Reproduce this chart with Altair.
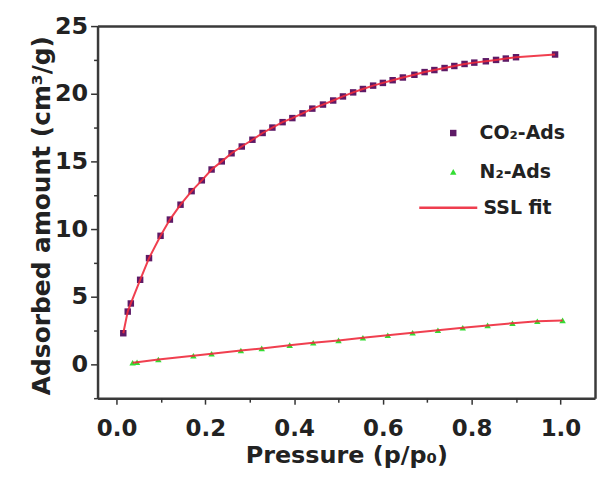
import altair as alt
import pandas as pd

# CO2 adsorption (points and SSL fit)
co2_p = [0.015, 0.025, 0.032, 0.053, 0.073, 0.099, 0.120, 0.144, 0.169, 0.192,
         0.214, 0.237, 0.259, 0.282, 0.306, 0.329, 0.351, 0.374, 0.396, 0.419,
         0.441, 0.465, 0.488, 0.510, 0.533, 0.555, 0.578, 0.600, 0.622, 0.645,
         0.671, 0.694, 0.716, 0.739, 0.761, 0.784, 0.806, 0.832, 0.855, 0.877,
         0.900, 0.988]
co2_q = [2.3, 3.9, 4.5, 6.25, 7.85, 9.5, 10.7, 11.8, 12.8, 13.6,
         14.4, 15.0, 15.6, 16.1, 16.6, 17.1, 17.5, 17.9, 18.2, 18.55,
         18.9, 19.2, 19.5, 19.8, 20.1, 20.35, 20.6, 20.8, 21.0, 21.2,
         21.4, 21.6, 21.75, 21.9, 22.05, 22.2, 22.3, 22.4, 22.5, 22.6,
         22.7, 22.9]

# N2 adsorption
n2_p = [0.036, 0.046, 0.094, 0.173, 0.214, 0.280, 0.327, 0.390, 0.443, 0.500,
        0.555, 0.611, 0.667, 0.724, 0.780, 0.836, 0.892, 0.948, 1.005]
n2_q = [0.12, 0.16, 0.36, 0.64, 0.78, 1.02, 1.18, 1.42, 1.60, 1.77,
        1.97, 2.15, 2.34, 2.52, 2.70, 2.88, 3.04, 3.18, 3.25]

series_names = ["CO\u2082-Ads", "N\u2082-Ads"]
fit_name = "SSL fit"

x_major = [0.0, 0.2, 0.4, 0.6, 0.8, 1.0]
x_minor = [0.1, 0.3, 0.5, 0.7, 0.9]
y_major = [0, 5, 10, 15, 20, 25]
y_minor = [-2.5, 2.5, 7.5, 12.5, 17.5, 22.5]

df = pd.concat([
    pd.DataFrame({"p": co2_p, "q": co2_q, "series": series_names[0]}),
    pd.DataFrame({"p": n2_p, "q": n2_q, "series": series_names[1]}),
], ignore_index=True)
df["fit"] = fit_name

FONT = "DejaVu Sans"
FRAME = "#3a3a3a"
xscale = alt.Scale(domain=[-0.043, 1.078], nice=False, zero=False)
yscale = alt.Scale(domain=[-2.5, 25], nice=False, zero=False)

points = alt.Chart(df).mark_point(filled=True, size=42, opacity=1).encode(
    x=alt.X("p:Q", scale=xscale, axis=alt.Axis(
        values=x_major, format=".1f", orient="bottom", title="Pressure (p/p\u2080)",
        tickSize=6, tickWidth=1.5, tickColor="#333", domain=True, domainColor=FRAME,
        domainWidth=2.5, grid=False,
        labelFont=FONT, labelFontSize=23, labelFontWeight="bold", labelColor="#222",
        labelPadding=14, titleFont=FONT, titleFontSize=24, titleFontWeight="bold",
        titleColor="#222", titlePadding=3)),
    y=alt.Y("q:Q", scale=yscale, axis=alt.Axis(
        values=y_major, format="d", orient="left", title="Adsorbed amount (cm\u00b3/g)",
        tickSize=7, tickWidth=1.5, tickColor="#333", domain=True, domainColor=FRAME,
        domainWidth=2.5, grid=False,
        labelFont=FONT, labelFontSize=24, labelFontWeight="bold", labelColor="#222",
        labelPadding=3, titleFont=FONT, titleFontSize=25, titleFontWeight="bold",
        titleColor="#222", titlePadding=0, titleY=190)),
    color=alt.Color("series:N", scale=alt.Scale(domain=series_names,
                    range=["#5e1a66", "#33dd33"]),
                    legend=alt.Legend(orient="none", legendX=348, legendY=98, title=None,
                                      symbolSize=42, labelFont=FONT, labelFontSize=19,
                                      labelFontWeight="bold", labelColor="#222",
                                      labelOffset=17, rowPadding=19, padding=0)),
    shape=alt.Shape("series:N", scale=alt.Scale(domain=series_names,
                    range=["square", "triangle-up"])),
)

fit = alt.Chart(df).mark_line(strokeWidth=2, opacity=0.9).encode(
    x=alt.X("p:Q", scale=xscale, axis=alt.Axis(
        values=x_minor, orient="bottom", title=None, labels=False, domain=False,
        grid=False, tickSize=4, tickWidth=1.5, tickColor="#333")),
    y=alt.Y("q:Q", scale=yscale, axis=alt.Axis(
        values=y_minor, orient="left", title=None, labels=False, domain=False,
        grid=False, tickSize=4, tickWidth=1.5, tickColor="#333")),
    color=alt.Color("fit:N", scale=alt.Scale(domain=[fit_name], range=["#ee2a3c"]),
                    legend=alt.Legend(orient="none", legendX=322, legendY=152, title=None,
                                      symbolType="stroke", symbolSize=3400,
                                      symbolStrokeWidth=2.5, labelFont=FONT,
                                      labelFontSize=19, labelFontWeight="bold",
                                      labelColor="#222", labelOffset=5, padding=0)),
    detail="series:N",
    order="p:Q",
)

# top/right frame lines as axis domains
frame = alt.Chart(df).mark_point(opacity=0).encode(
    x=alt.X("p:Q", scale=xscale, axis=alt.Axis(
        orient="top", title=None, labels=False, ticks=False, grid=False,
        domain=True, domainColor=FRAME, domainWidth=2.5)),
    y=alt.Y("q:Q", scale=yscale, axis=alt.Axis(
        orient="right", title=None, labels=False, ticks=False, grid=False,
        domain=True, domainColor=FRAME, domainWidth=2.5)),
)

chart = alt.layer(points, fit, frame).resolve_scale(
    color="independent", shape="independent"
).resolve_axis(
    x="independent", y="independent"
).properties(
    width=500, height=374,
    autosize=alt.AutoSizeParams(type="none"),
    padding={"left": 90, "top": 17, "right": 2, "bottom": 70},
).configure_view(
    stroke=None
).configure(background="white")

chart.save("out.html", embed_options={"renderer": "svg", "actions": False})
